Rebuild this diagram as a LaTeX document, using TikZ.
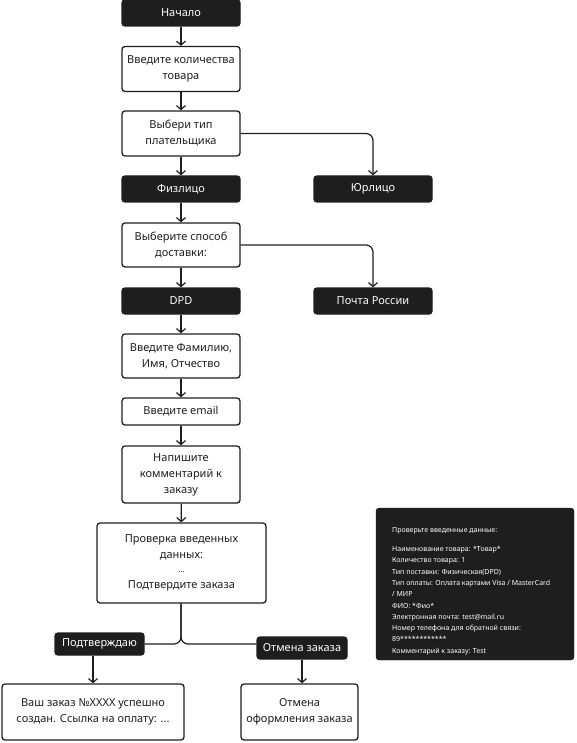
\documentclass[tikz,border=0pt]{standalone}
\usepackage{fontspec}
\setmainfont{Noto Sans}
\usetikzlibrary{arrows.meta}
\definecolor{ink}{HTML}{1E1E1E}
\tikzset{
  box/.style={draw=ink, line width=1.3pt, rounded corners=3pt, fill=white, text=ink,
    minimum width=118pt, align=center, inner sep=2pt,
    font=\fontsize{11}{16}\selectfont},
  dark/.style={box, fill=ink, text=white},
  conn/.style={draw=ink, line width=1.2pt, rounded corners=7pt},
  arr/.style={conn, -{Straight Barb[length=4pt,width=9pt,line width=1.2pt]}},
}
\begin{document}
\begin{tikzpicture}[x=1pt,y=1pt]
\useasboundingbox (0,0) rectangle (576,-743);
\node[dark, minimum height=26pt] (start) at (181,-13) {Начало};
\node[box, minimum height=45pt] (qty) at (181,-69) {Введите количества\\товара};
\node[box, minimum height=45pt] (payer) at (181,-133.5) {Выбери тип\\плательщика};
\node[dark, minimum height=26pt] (fiz) at (181,-189) {Физлицо};
\node[dark, minimum height=26pt] (yur) at (373,-189) {Юрлицо};
\node[box, minimum height=44pt] (deliv) at (181,-245) {Выберите способ\\доставки:};
\node[dark, minimum height=26pt] (dpd) at (181,-301) {DPD};
\node[dark, minimum height=26pt] (post) at (373,-301) {Почта России};
\node[box, minimum height=44pt] (fio) at (181,-356) {Введите Фамилию,\\Имя, Отчество};
\node[box, minimum height=27pt] (email) at (181,-411.5) {Введите email};
\node[box, minimum height=57pt] (comm) at (181,-474.5) {Напишите\\комментарий к\\заказу};
\node[box, minimum width=169pt, minimum height=80pt] (check) at (181.5,-563) {Проверка введенных\\данных:\\[-2pt]{\fontsize{8}{10}\selectfont...}\\Подтвердите заказа};
\node[dark, minimum width=89pt, minimum height=22pt] (conf) at (99.5,-644) {Подтверждаю};
\node[dark, minimum width=90pt, minimum height=22pt] (canc) at (302,-648) {Отмена заказа};
\node[box, minimum width=182pt, minimum height=56pt] (order) at (93,-712) {Ваш заказ №XXXX успешно\\создан. Ссылка на оплату: ...};
\node[box, minimum width=117pt, minimum height=56pt] (cbox) at (299.5,-712) {Отмена\\оформления заказа};
\node[draw=ink, fill=ink, rounded corners=3pt, minimum width=198pt, minimum height=152pt, inner sep=0pt] (panel) at (475,-584) {};
\node[anchor=north west, text=white, align=left, inner sep=0pt,
  font=\fontsize{7}{11.3}\selectfont] (ptext) at (392,-527) {Проверьте введенные данные:\\[8pt]
Наименование товара: *Товар*\\
Количество товара: 1\\
Тип поставки: Физическая(DPD)\\
Тип оплаты: Оплата картами Visa / MasterCard\\
/ МИР\\
ФИО: *Фио*\\
Электронная почта: test@mail.ru\\
Номер телефона для обратной связи:\\
89************\\
Комментарий к заказу: Test};
\draw[arr] (start) -- (qty);
\draw[arr] (qty) -- (payer);
\draw[arr] (payer) -- (fiz);
\draw[arr] (payer.east) -| (yur.north);
\draw[arr] (fiz) -- (deliv);
\draw[arr] (deliv.east) -| (post.north);
\draw[arr] (deliv) -- (dpd);
\draw[arr] (dpd) -- (fio);
\draw[arr] (fio) -- (email);
\draw[arr] (email) -- (comm);
\draw[arr] (comm) -- (check);
\coordinate (split) at (181,-644);
\draw[conn] (check.south -| split) |- (conf.east);
\draw[conn] (check.south -| split) |- (canc.west |- split);
\draw[arr] (order.north |- conf.south) -- (order.north);
\draw[arr] (canc.south) -- (canc.south |- cbox.north);
\end{tikzpicture}
\end{document}
